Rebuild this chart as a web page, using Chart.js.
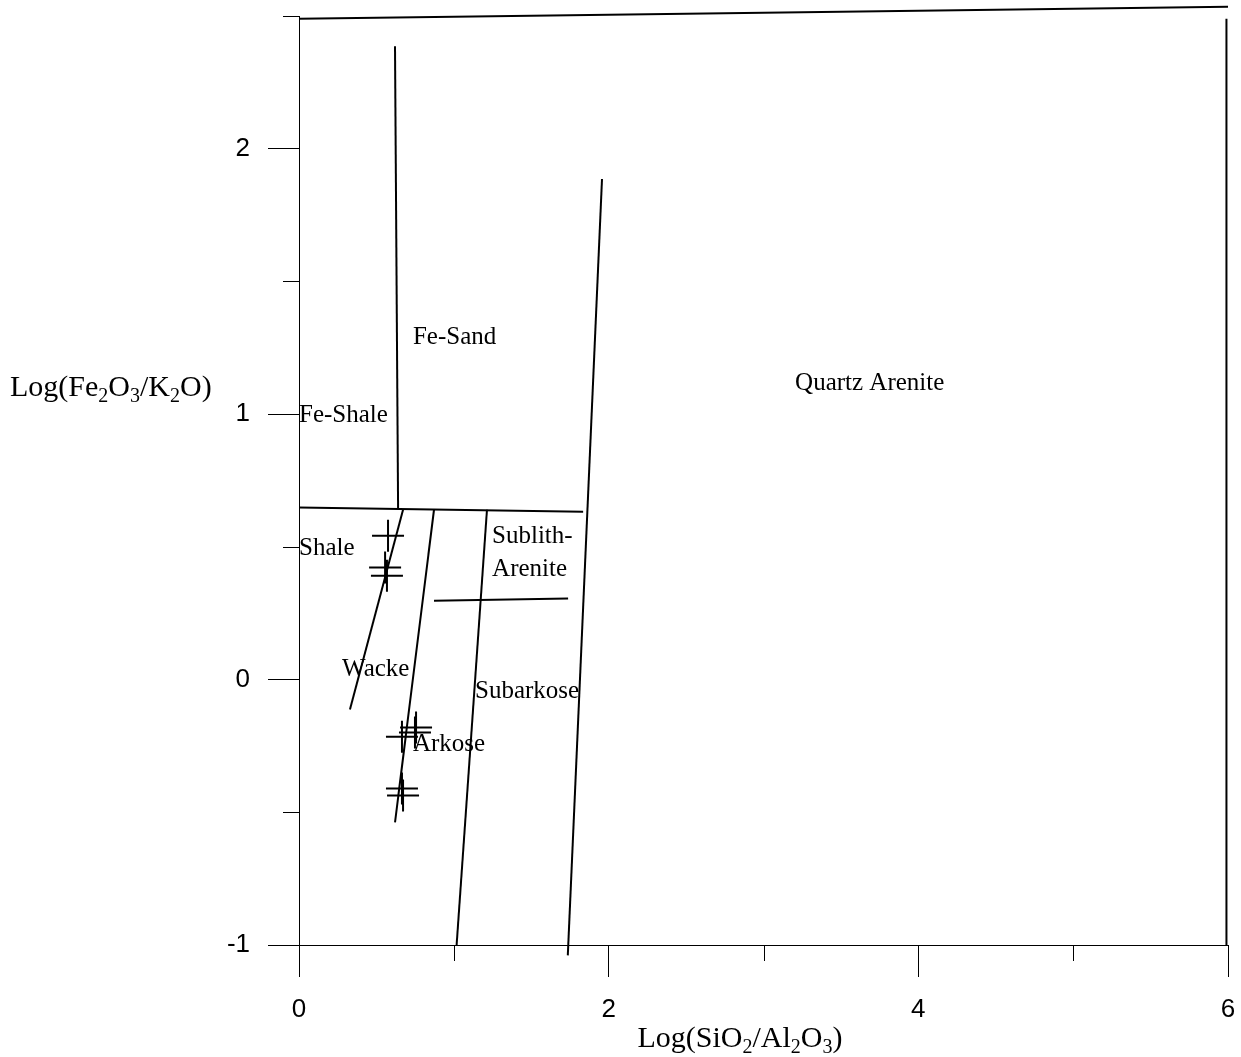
<!DOCTYPE html>
<html>
<head>
<meta charset="utf-8">
<script src="https://cdn.jsdelivr.net/npm/chart.js@4.4.1/dist/chart.umd.min.js"></script>
<style>
  body { margin: 0; background: #fff; }
  #wrap { width: 1241px; height: 1057px; position: relative; }
</style>
</head>
<body>
<div id="wrap"><canvas id="myChart"></canvas></div>
<script>
// Ticks
const xTickValues = [0, 2, 4, 6];
const yTickValues = [-1, 0, 1, 2];

// Field boundaries [x, y]
const topBoundary = [[0, 2.49], [6, 2.535]];
const rightBoundary = [[5.99, 2.49], [5.99, -1]];
const feSandLine = [[0.62, 2.386], [0.64, 0.645]];
const feShaleLine = [[0, 0.648], [1.835, 0.632]];
const shaleWackeLine = [[0.672, 0.64], [0.329, -0.113]];
const wackeArkoseLine = [[0.872, 0.64], [0.62, -0.538]];
const arkoseSubarkoseLine = [[1.214, 0.64], [1.018, -1.0]];
const sublithLine = [[0.872, 0.297], [1.738, 0.305]];
const quartzLine = [[1.957, 1.886], [1.736, -1.039]];

// Samples
const sampleX = [0.575, 0.556, 0.568, 0.756, 0.749, 0.665, 0.665, 0.672];
const sampleY = [0.542, 0.422, 0.391, -0.181, -0.199, -0.215, -0.41, -0.437];

// Field names
const regionNames = ["Fe-Sand", "Quartz Arenite", "Fe-Shale", "Shale", "Sublith-", "Arenite", "Wacke", "Subarkose", "Arkose"];
const regionX = [0.736, 3.204, 0.0, 0.0, 1.247, 1.247, 0.278, 1.137, 0.736];
const regionY = [1.29, 1.114, 0.994, 0.493, 0.538, 0.414, 0.038, -0.045, -0.245];

const boundaries = [topBoundary, rightBoundary, feSandLine, feShaleLine, shaleWackeLine,
  wackeArkoseLine, arkoseSubarkoseLine, sublithLine, quartzLine];

const datasets = boundaries.map((b) => ({
  data: b.map((p) => ({ x: p[0], y: p[1] })),
  showLine: true,
  borderColor: "#000",
  borderWidth: 2,
  pointRadius: 0,
  clip: false,
}));

datasets.push({
  data: sampleX.map((x, k) => ({ x: x, y: sampleY[k] })),
  showLine: false,
  pointStyle: "cross",
  pointRadius: 16,
  pointBorderWidth: 2,
  borderColor: "#000",
  clip: false,
});

const serif = "'Liberation Serif', 'Times New Roman', serif";

function drawSubText(c, parts, x, y, align) {
  const big = "30px " + serif;
  const small = "20px " + serif;
  let w = 0;
  parts.forEach((p) => {
    c.font = p[1] ? small : big;
    w += c.measureText(p[0]).width;
  });
  let cx = align === "center" ? x - w / 2 : x;
  c.textBaseline = "alphabetic";
  c.textAlign = "left";
  parts.forEach((p) => {
    c.font = p[1] ? small : big;
    c.fillText(p[0], cx, y + (p[1] ? 6 : 0));
    cx += c.measureText(p[0]).width;
  });
}

const extras = {
  id: "extras",
  afterDraw(chart) {
    const c = chart.ctx;
    const xs = chart.scales.x;
    const ys = chart.scales.y;
    c.save();
    c.strokeStyle = "#000";
    c.lineWidth = 1;
    // minor ticks
    [1, 3, 5].forEach((v) => {
      const px = Math.round(xs.getPixelForValue(v)) + 0.5;
      c.beginPath();
      c.moveTo(px, ys.bottom);
      c.lineTo(px, ys.bottom + 16);
      c.stroke();
    });
    [-0.5, 0.5, 1.5, 2.5].forEach((v) => {
      const py = Math.round(ys.getPixelForValue(v)) + 0.5;
      c.beginPath();
      c.moveTo(xs.left, py);
      c.lineTo(xs.left - 16, py);
      c.stroke();
    });
    // field names
    c.fillStyle = "#000";
    c.font = "25px " + serif;
    c.textAlign = "left";
    c.textBaseline = "middle";
    regionNames.forEach((n, k) => {
      c.fillText(n, xs.getPixelForValue(regionX[k]), ys.getPixelForValue(regionY[k]));
    });
    // axis titles
    drawSubText(c, [["Log(Fe", 0], ["2", 1], ["O", 0], ["3", 1], ["/K", 0], ["2", 1], ["O)", 0]], 10, 396, "left");
    drawSubText(c, [["Log(SiO", 0], ["2", 1], ["/Al", 0], ["2", 1], ["O", 0], ["3", 1], [")", 0]], 740, 1047, "center");
    c.restore();
  },
};

const ctx = document.getElementById("myChart");

new Chart(ctx, {
  type: "scatter",
  data: { datasets: datasets },
  plugins: [extras],
  options: {
    responsive: true,
    maintainAspectRatio: false,
    animation: false,
    layout: { autoPadding: false, padding: { top: 16, right: 13, left: 0, bottom: 0 } },
    plugins: {
      legend: { display: false },
      tooltip: { enabled: false },
    },
    scales: {
      x: {
        type: "linear",
        min: 0,
        max: 6,
        afterFit: (s) => {
          s.height = 112;
          s.paddingLeft = 0;
          s.paddingRight = 0;
        },
        border: { display: true, color: "#000", width: 1 },
        grid: {
          drawOnChartArea: false,
          tickLength: 32,
          tickColor: (c) => (xTickValues.includes(c.tick.value) ? "#000" : "rgba(0,0,0,0)"),
        },
        ticks: {
          stepSize: 1,
          padding: 17,
          color: "#000",
          font: { family: "'Liberation Sans', Arial, sans-serif", size: 26 },
          callback: (v) => (xTickValues.includes(v) ? String(v) : ""),
          maxRotation: 0,
          autoSkip: false,
        },
      },
      y: {
        type: "linear",
        min: -1,
        max: 2.5,
        afterFit: (s) => {
          s.width = 299;
          s.paddingTop = 0;
          s.paddingBottom = 0;
        },
        border: { display: true, color: "#000", width: 1 },
        grid: {
          drawOnChartArea: false,
          tickLength: 31,
          tickColor: (c) => (yTickValues.includes(c.tick.value) ? "#000" : "rgba(0,0,0,0)"),
        },
        ticks: {
          stepSize: 0.5,
          padding: 18,
          color: "#000",
          font: { family: "'Liberation Sans', Arial, sans-serif", size: 26 },
          callback: (v) => (yTickValues.includes(v) ? String(v) : ""),
          autoSkip: false,
        },
      },
    },
  },
});
</script>
</body>
</html>
